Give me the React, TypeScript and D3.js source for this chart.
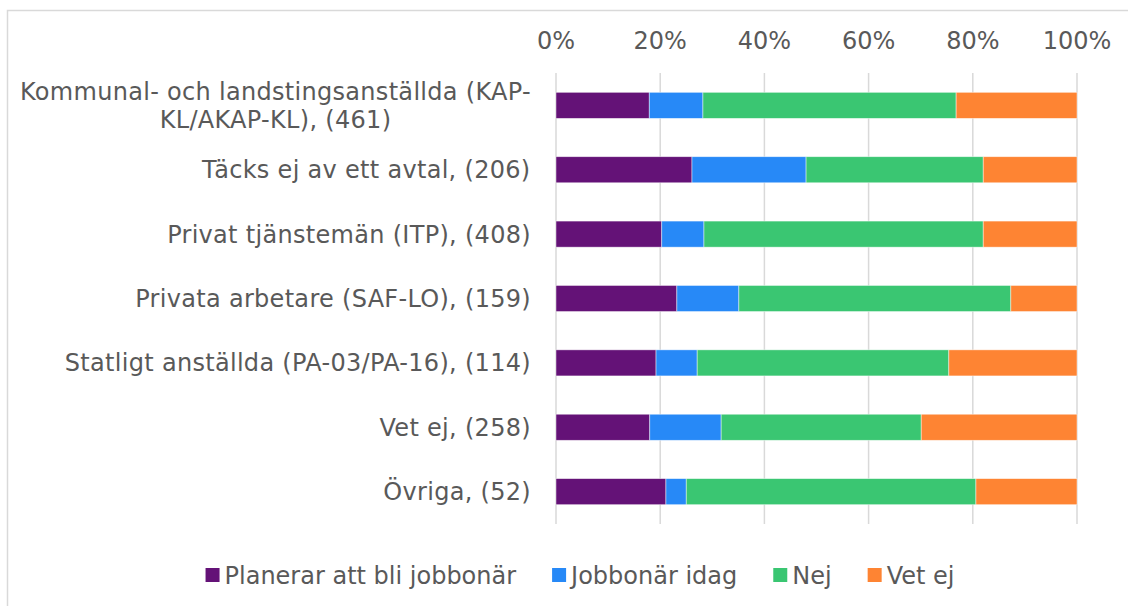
import React, { useEffect, useRef } from 'react';
import * as d3 from 'd3';

// categories top to bottom (label lines)
const categories = [
  ['Kommunal- och landstingsanställda (KAP-', 'KL/AKAP-KL), (461)'],
  ['Täcks ej av ett avtal, (206)'],
  ['Privat tjänstemän (ITP), (408)'],
  ['Privata arbetare (SAF-LO), (159)'],
  ['Statligt anställda (PA-03/PA-16), (114)'],
  ['Vet ej, (258)'],
  ['Övriga, (52)'],
];

const seriesNames = ['Planerar att bli jobbonär', 'Jobbonär idag', 'Nej', 'Vet ej'];
const seriesColors = ['#641277', '#2789f7', '#3ac672', '#fe8433'];

// percent values, same order as categories
const planerar = [17.9, 26.1, 20.3, 23.2, 19.2, 18.0, 21.1];
const idag = [10.3, 21.9, 8.1, 11.9, 7.9, 13.7, 3.9];
const nej = [48.6, 34.0, 53.6, 52.2, 48.3, 38.4, 55.6];
const vetEj = [23.2, 18.0, 18.0, 12.7, 24.6, 29.9, 19.4];

const tickValues = [0, 0.2, 0.4, 0.6, 0.8, 1];

const W = 1128;
const H = 606;
const FONT = '"DejaVu Sans", Verdana, sans-serif';
const FS = 24;
const TEXT = '#595959';

export default function App() {
  const ref = useRef<SVGSVGElement>(null);

  useEffect(() => {
    document.body.style.margin = '0';
    const svg = d3.select(ref.current);
    svg.selectAll('*').remove();

    // outer frame (runs off the right and bottom)
    svg.append('rect')
      .attr('x', 7.5).attr('y', 10.5)
      .attr('width', W).attr('height', H)
      .attr('fill', 'none')
      .attr('stroke', '#d9d9d9')
      .attr('stroke-width', 1.5);

    const x = d3.scaleLinear().domain([0, 1]).range([556, 1077]);
    const y = d3.scaleBand<number>()
      .domain(d3.range(categories.length))
      .range([73, 524])
      .paddingInner(0.595)
      .paddingOuter(0.3);

    const rows = categories.map((c, i) => ({
      i,
      p: planerar[i], j: idag[i], n: nej[i], v: vetEj[i],
    }));
    const stack = d3.stack<any>().keys(['p', 'j', 'n', 'v']).offset(d3.stackOffsetExpand);
    const stacked = stack(rows);

    // grid
    svg.append('g')
      .selectAll('line')
      .data(tickValues)
      .enter()
      .append('line')
      .attr('x1', d => x(d)).attr('x2', d => x(d))
      .attr('y1', 73).attr('y2', 524)
      .attr('stroke', '#d9d9d9')
      .attr('stroke-width', 1.5);

    // top axis labels
    svg.append('g')
      .selectAll('text')
      .data(tickValues)
      .enter()
      .append('text')
      .attr('x', d => x(d))
      .attr('y', 49)
      .attr('text-anchor', 'middle')
      .attr('font-family', FONT)
      .attr('font-size', FS)
      .attr('fill', TEXT)
      .text(d => d3.format('.0%')(d));

    // bars
    svg.append('g')
      .selectAll('g')
      .data(stacked)
      .enter()
      .append('g')
      .attr('fill', (d, k) => seriesColors[k])
      .selectAll('rect')
      .data(d => d)
      .enter()
      .append('rect')
      .attr('x', d => x(d[0]))
      .attr('width', d => x(d[1]) - x(d[0]))
      .attr('y', d => y(d.data.i)!)
      .attr('height', y.bandwidth())
      .attr('stroke', '#ffffff')
      .attr('stroke-opacity', 0.6)
      .attr('stroke-width', 0.75);

    // category labels
    const lab = svg.append('g')
      .selectAll('text')
      .data(categories)
      .enter()
      .append('text')
      .attr('text-anchor', 'middle')
      .attr('font-family', FONT)
      .attr('font-size', FS)
      .attr('letter-spacing', 0.3)
      .attr('fill', TEXT);
    lab.each(function (lines, i) {
      const t = d3.select(this);
      const cy = y(i)! + y.bandwidth() / 2;
      const lh = 28;
      const y0 = cy - ((lines.length - 1) * lh) / 2 + 8.5;
      lines.forEach((s, k) => {
        t.append('tspan').attr('x', 0).attr('y', y0 + k * lh).text(s);
      });
    });
    // right-align the block, lines centered among themselves
    lab.each(function () {
      const node = this as SVGTextElement;
      const w = node.getBBox().width;
      d3.select(node).attr('transform', `translate(${531 - w / 2},0)`);
    });

    // legend
    const leg = svg.append('g');
    const items = leg.selectAll('g')
      .data(seriesNames)
      .enter()
      .append('g');
    items.append('rect')
      .attr('width', 14).attr('height', 14)
      .attr('y', 568)
      .attr('fill', (d, k) => seriesColors[k]);
    items.append('text')
      .attr('x', 19)
      .attr('y', 584)
      .attr('font-family', FONT)
      .attr('font-size', FS)
      .attr('fill', TEXT)
      .text(d => d);
    const gap = 36;
    let cx = 0;
    const offs: number[] = [];
    items.each(function () {
      offs.push(cx);
      const tw = (d3.select(this).select('text').node() as SVGTextElement).getComputedTextLength();
      cx += 19 + tw + gap;
    });
    const total = cx - gap;
    const start = 580 - total / 2;
    items.attr('transform', (d, k) => `translate(${start + offs[k]},0)`);
  }, []);

  return <svg ref={ref} width={W} height={H} style={{ display: 'block' }} />;
}
